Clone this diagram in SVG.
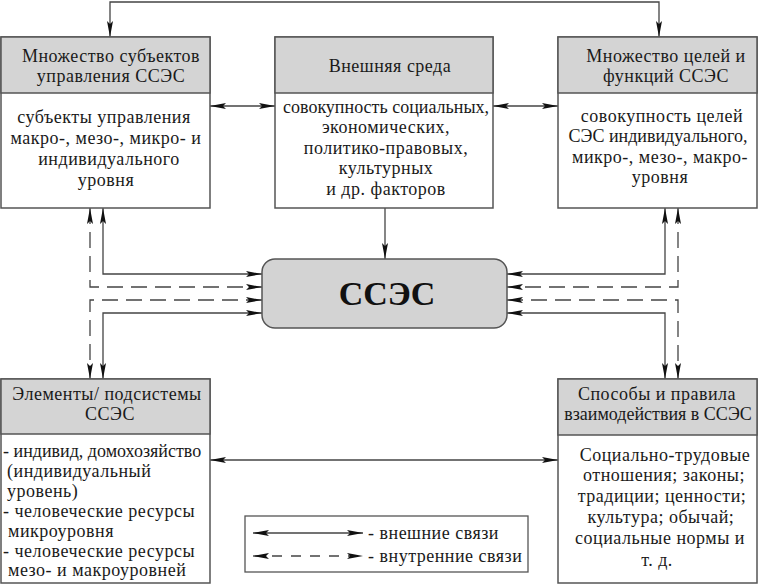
<svg xmlns="http://www.w3.org/2000/svg" width="760" height="585" viewBox="0 0 760 585">
<style>
  text { font-family: "Liberation Serif", "Times New Roman", serif; font-size: 18px; fill: #1a1a1a; letter-spacing: 0.5px; }
  .c { text-anchor: middle; }
  .tight { letter-spacing: 0px; }
  .box { fill: #ffffff; stroke: #555555; stroke-width: 1.5; }
  .hdr { fill: #d4d4d4; stroke: #555555; stroke-width: 1.5; }
  .ln { fill: none; stroke: #444444; stroke-width: 1.3; }
  .dash { stroke-dasharray: 16 8; }
  .arr2 { marker-start: url(#ah); marker-end: url(#ah); }
  .arr1 { marker-end: url(#ah); }
</style>
<defs>
  <marker id="ah" markerUnits="userSpaceOnUse" markerWidth="17" markerHeight="8" refX="16" refY="4" orient="auto-start-reverse">
    <path d="M0,1 L16,4 L0,7 L3,4 z" fill="#111111"/>
  </marker>
</defs>

<g id="connectors">
  <path class="ln arr2" d="M110,37 V2 H659 V37"/>
  <path class="ln arr2" d="M210,106 H275"/>
  <path class="ln arr2" d="M493,106 H558"/>
  <path class="ln arr1" d="M385,208 V259"/>
  <path class="ln arr2" d="M103,208 V274 H262"/>
  <path class="ln dash arr2" d="M90,208 V287 H262"/>
  <path class="ln dash arr2" d="M262,300 H90 V379"/>
  <path class="ln arr2" d="M262,313 H103 V379"/>
  <path class="ln arr2" d="M665,208 V274 H507"/>
  <path class="ln dash arr2" d="M678,208 V287 H507"/>
  <path class="ln dash arr2" d="M507,300 H678 V379"/>
  <path class="ln arr2" d="M507,313 H665 V379"/>
  <path class="ln arr2" d="M210,460 H558"/>
</g>

<g id="subjects">
  <rect class="box" x="1" y="37" width="209" height="171"/>
  <rect class="hdr" x="1" y="37" width="209" height="56"/>
  <text class="c" x="111" y="62">Множество субъектов</text>
  <text class="c" x="111" y="82">управления ССЭС</text>
  <text class="c" x="104" y="123">субъекты управления</text>
  <text class="c" x="106" y="144">макро-, мезо-, микро- и</text>
  <text class="c" x="109" y="165">индивидуального</text>
  <text class="c" x="106" y="186">уровня</text>
</g>

<g id="environment">
  <rect class="box" x="275" y="37" width="218" height="171"/>
  <rect class="hdr" x="275" y="37" width="218" height="56"/>
  <text class="c" x="390" y="72">Внешняя среда</text>
  <text class="c tight" x="386" y="113">совокупность социальных,</text>
  <text class="c" x="386" y="133">экономических,</text>
  <text class="c" x="386" y="154">политико-правовых,</text>
  <text class="c" x="386" y="174">культурных</text>
  <text class="c" x="386" y="195">и др. факторов</text>
</g>

<g id="goals">
  <rect class="box" x="558" y="37" width="199" height="171"/>
  <rect class="hdr" x="558" y="37" width="199" height="56"/>
  <text class="c" x="666" y="62">Множество целей и</text>
  <text class="c" x="666" y="82">функций ССЭС</text>
  <text class="c" x="662" y="122">совокупность целей</text>
  <text class="c tight" x="658" y="142">СЭС индивидуального,</text>
  <text class="c" x="660" y="163">микро-, мезо-, макро-</text>
  <text class="c" x="660" y="183">уровня</text>
</g>

<g id="sses">
  <rect x="262" y="259" width="245" height="69" rx="13" ry="13" fill="#d3d3d3" stroke="#555555" stroke-width="1.5"/>
  <text class="c tight" x="387" y="305" style="font-size:34px;font-weight:bold;fill:#111111">ССЭС</text>
</g>

<g id="elements">
  <rect class="box" x="1" y="379" width="209" height="204"/>
  <rect class="hdr" x="1" y="379" width="209" height="55"/>
  <text class="c" x="107" y="400">Элементы/ подсистемы</text>
  <text class="c" x="110" y="420">ССЭС</text>
  <text class="tight" x="3" y="457">- индивид, домохозяйство</text>
  <text x="7" y="477">(индивидуальный</text>
  <text x="7" y="497">уровень)</text>
  <text x="3" y="517">- человеческие ресурсы</text>
  <text x="8" y="537">микроуровня</text>
  <text x="3" y="557">- человеческие ресурсы</text>
  <text x="8" y="576">мезо- и макроуровней</text>
</g>

<g id="rules">
  <rect class="box" x="558" y="379" width="199" height="204"/>
  <rect class="hdr" x="558" y="379" width="199" height="56"/>
  <text class="c" x="657" y="400">Способы и правила</text>
  <text class="c tight" x="658" y="420">взаимодействия в ССЭС</text>
  <text class="c" x="665" y="461">Социально-трудовые</text>
  <text class="c" x="664" y="481">отношения; законы;</text>
  <text class="c" x="662" y="502">традиции; ценности;</text>
  <text class="c" x="661" y="523">культура; обычай;</text>
  <text class="c" x="660" y="544">социальные нормы и</text>
  <text class="c" x="657" y="566">т. д.</text>
</g>

<g id="legend">
  <rect x="245" y="516" width="283" height="56" fill="#ffffff" stroke="#555555" stroke-width="1.3"/>
  <path class="ln arr2" d="M253,533 H363"/>
  <path class="ln arr2" d="M253,556 H363" stroke-dasharray="10 9"/>
  <text x="368" y="539">- внешние связи</text>
  <text x="368" y="562">- внутренние связи</text>
</g>
</svg>
